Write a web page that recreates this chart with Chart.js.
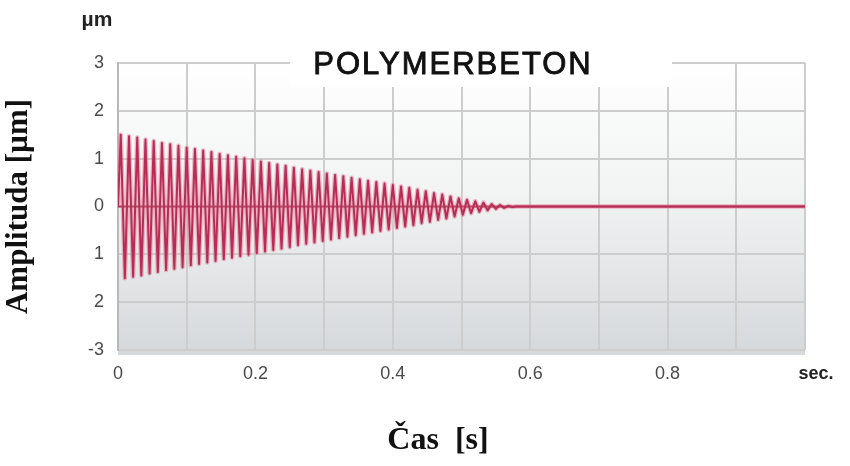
<!DOCTYPE html>
<html>
<head>
<meta charset="utf-8">
<script src="https://cdn.jsdelivr.net/npm/chart.js@4.4.1/dist/chart.umd.min.js"></script>
<style>
  html, body { margin: 0; padding: 0; background: #fff; }
  #wrap { width: 850px; height: 466px; }
</style>
</head>
<body>
<div id="wrap"><canvas id="vibChart" width="850" height="466"></canvas></div>
<script>
// values
const chartTitle = "POLYMERBETON";
const yUnit = "\u00b5m";
const xUnit = "sec.";
const yTitle = "Amplituda [\u00b5m]";
const xTitle = "\u010cas  [s]";

// time of each positive peak (s) and its amplitude (µm), one per cycle
const cycleTimes = [0.004, 0.016, 0.028, 0.040, 0.052, 0.064, 0.076, 0.088, 0.100, 0.112,
  0.124, 0.136, 0.148, 0.160, 0.172, 0.184, 0.196, 0.208, 0.220, 0.232,
  0.244, 0.256, 0.268, 0.280, 0.292, 0.304, 0.316, 0.328, 0.340, 0.352,
  0.364, 0.376, 0.388, 0.400, 0.412, 0.424, 0.436, 0.448, 0.460, 0.472,
  0.484, 0.496, 0.508, 0.520, 0.532, 0.544, 0.556, 0.568];
const cycleAmps = [1.50, 1.47, 1.44, 1.40, 1.37, 1.33, 1.30, 1.27, 1.23, 1.20,
  1.17, 1.14, 1.10, 1.07, 1.04, 1.01, 0.97, 0.94, 0.91, 0.88,
  0.85, 0.81, 0.78, 0.75, 0.72, 0.69, 0.66, 0.63, 0.60, 0.57,
  0.54, 0.51, 0.48, 0.45, 0.42, 0.39, 0.35, 0.32, 0.28, 0.25,
  0.21, 0.17, 0.14, 0.11, 0.08, 0.05, 0.03, 0.01];
const halfPeriod = 0.006;

const yTicks = [-3, -2, -1, 0, 1, 2, 3];
const yTickLabels = ["-3", "2", "1", "0", "1", "2", "3"];
const xLabelled = ["0", "0.2", "0.4", "0.6", "0.8"];

// build the zig-zag signal from the peaks
const signal = [{ x: 0, y: 0 }];
cycleTimes.forEach(function (t, i) {
  signal.push({ x: t, y: cycleAmps[i] });
  signal.push({ x: t + halfPeriod, y: -cycleAmps[i] });
});
signal.push({ x: 0.58, y: 0 });
signal.push({ x: 1, y: 0 });

const extras = {
  id: "extras",
  beforeDraw(chart) {
    const { ctx, chartArea: a } = chart;
    const g = ctx.createLinearGradient(0, a.top, 0, a.bottom);
    g.addColorStop(0, "#ffffff");
    g.addColorStop(0.45, "#f2f3f3");
    g.addColorStop(1, "#d6d9dc");
    ctx.save();
    ctx.fillStyle = g;
    ctx.fillRect(a.left, a.top, a.right - a.left, a.bottom - a.top + 5);
    ctx.restore();
  },
  afterDraw(chart) {
    const { ctx, chartArea: a } = chart;
    ctx.save();
    // title box over the grid
    ctx.fillStyle = "#ffffff";
    ctx.fillRect(290, a.top - 20, 382, 44);
    ctx.fillStyle = "#111";
    ctx.strokeStyle = "#111";
    ctx.lineWidth = 0.9;
    ctx.font = "31px 'Liberation Sans', Arial, sans-serif";
    ctx.letterSpacing = "2px";
    ctx.textAlign = "center";
    ctx.textBaseline = "middle";
    ctx.fillText(chartTitle, 453, a.top + 2);
    ctx.strokeText(chartTitle, 453, a.top + 2);
    ctx.letterSpacing = "0px";

    ctx.font = "bold 21px 'Liberation Sans', Arial, sans-serif";
    ctx.fillStyle = "#222";
    ctx.fillText(yUnit, 97, 20);

    ctx.font = "bold 18px 'Liberation Sans', Arial, sans-serif";
    ctx.fillText(xUnit, 816, 374);

    ctx.font = "bold 32px 'Liberation Serif', 'Times New Roman', serif";
    ctx.fillStyle = "#111";
    ctx.fillText(xTitle, 438, 441);
    ctx.restore();
  }
};

const ctx = document.getElementById("vibChart").getContext("2d");
new Chart(ctx, {
  type: "line",
  data: {
    datasets: [
      {
        label: "zero",
        data: [{ x: 0, y: 0 }, { x: 1, y: 0 }],
        borderColor: "#8e2c47",
        borderWidth: 2,
        pointRadius: 0,
        order: 3,
      },
      {
        label: "halo",
        data: signal,
        borderColor: "rgba(226, 120, 150, 0.5)",
        borderWidth: 4.5,
        borderJoinStyle: "round",
        pointRadius: 0,
        order: 2,
      },
      {
        label: "Amplituda",
        data: signal,
        borderColor: "#b82d55",
        borderWidth: 2,
        borderJoinStyle: "round",
        pointRadius: 0,
        order: 1,
      },
    ],
  },
  options: {
    responsive: false,
    animation: false,
    layout: { padding: { top: 63, right: 45, left: 0, bottom: 0 } },
    plugins: {
      legend: { display: false },
      tooltip: { enabled: false },
    },
    scales: {
      x: {
        type: "linear",
        min: 0,
        max: 1,
        afterFit(scale) { scale.height = 116; },
        border: { display: false },
        grid: { color: "#cdcdcd", lineWidth: 2, drawTicks: false },
        ticks: {
          stepSize: 0.1,
          padding: 13,
          color: "#4a4a4a",
          font: { size: 18, family: "'Liberation Sans', Arial, sans-serif" },
          maxRotation: 0,
          autoSkip: false,
          callback(v) {
            const s = Math.round(v * 10) === 0 ? "0" : (Math.round(v * 10) / 10).toFixed(1);
            return xLabelled.includes(s) ? s : "";
          },
        },
      },
      y: {
        min: -3,
        max: 3,
        afterFit(scale) { scale.width = 118; },
        border: { display: true, color: "#b8b8b8", width: 2 },
        grid: { color: "#cdcdcd", lineWidth: 2, drawTicks: false },
        ticks: {
          stepSize: 1,
          padding: 14,
          color: "#4a4a4a",
          font: { size: 18, family: "'Liberation Sans', Arial, sans-serif" },
          callback(v) {
            const i = yTicks.indexOf(v);
            return i >= 0 ? yTickLabels[i] : "";
          },
        },
        title: {
          display: true,
          text: yTitle,
          color: "#111",
          padding: { top: 0, bottom: 0 },
          font: { size: 31, weight: "bold", family: "'Liberation Serif', 'Times New Roman', serif" },
        },
      },
    },
  },
  plugins: [extras],
});
</script>
</body>
</html>
